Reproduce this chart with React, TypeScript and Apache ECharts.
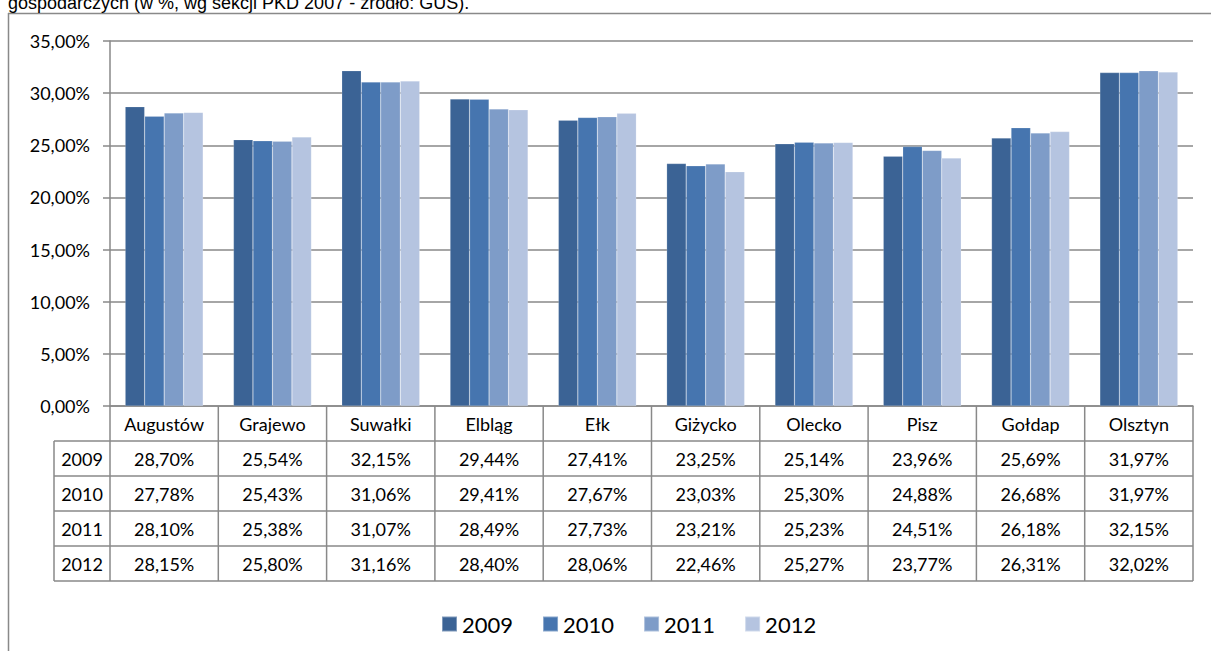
import React, { useEffect, useRef } from "react";
import * as echarts from "echarts";

const categories = ["Augustów", "Grajewo", "Suwałki", "Elbląg", "Ełk", "Giżycko", "Olecko", "Pisz", "Gołdap", "Olsztyn"];
const years = ["2009", "2010", "2011", "2012"];
const v2009 = [28.7, 25.54, 32.15, 29.44, 27.41, 23.25, 25.14, 23.96, 25.69, 31.97];
const v2010 = [27.78, 25.43, 31.06, 29.41, 27.67, 23.03, 25.3, 24.88, 26.68, 31.97];
const v2011 = [28.1, 25.38, 31.07, 28.49, 27.73, 23.21, 25.23, 24.51, 26.18, 32.15];
const v2012 = [28.15, 25.8, 31.16, 28.4, 28.06, 22.46, 25.27, 23.77, 26.31, 32.02];
const seriesValues = [v2009, v2010, v2011, v2012];
const colors = ["#3B6395", "#4675AF", "#7E9CC8", "#B5C4E0"];
const titleText = "gospodarczych (w %, wg sekcji PKD 2007 - źródło: GUS).";

const fmt = (v: number) => v.toFixed(2).replace(".", ",") + "%";

const W = 1211;
const H = 651;
const plotL = 110;
const plotR = 1193;
const plotT = 41;
const plotB = 406;
const rowLabelL = 54;
const rowLines = [441, 476, 511, 546, 581];
const lineColor = "#898989";
const font = "Lato, 'Noto Sans', sans-serif";

export default function App() {
  const ref = useRef<HTMLDivElement>(null);
  useEffect(() => {
    if (!ref.current) return;
    const chart = echarts.init(ref.current, null, { renderer: "svg" });
    const catW = (plotR - plotL) / categories.length;
    const graphics: any[] = [];
    // outer frame
    graphics.push({ type: "line", shape: { x1: 8.5, y1: 13, x2: 8.5, y2: H }, style: { stroke: lineColor, lineWidth: 1.5 } });
    graphics.push({ type: "line", shape: { x1: 8, y1: 13.5, x2: W, y2: 13.5 }, style: { stroke: lineColor, lineWidth: 1.5 } });
    graphics.push({
      type: "text", x: 8, y: 2.5,
      style: { text: titleText, font: "18px 'Liberation Sans', Arial, sans-serif", fill: "#000", verticalAlign: "middle", align: "left" },
    });
    // table verticals
    for (let i = 0; i <= categories.length; i++) {
      const x = plotL + i * catW;
      graphics.push({ type: "line", shape: { x1: x, y1: plotB, x2: x, y2: rowLines[rowLines.length - 1] }, style: { stroke: lineColor, lineWidth: 1.5 } });
    }
    graphics.push({ type: "line", shape: { x1: rowLabelL, y1: rowLines[0], x2: rowLabelL, y2: rowLines[rowLines.length - 1] }, style: { stroke: lineColor, lineWidth: 1.5 } });
    rowLines.forEach((y) => {
      graphics.push({ type: "line", shape: { x1: rowLabelL, y1: y, x2: plotR, y2: y }, style: { stroke: lineColor, lineWidth: 1.5 } });
    });
    // header
    categories.forEach((c, i) => {
      graphics.push({
        type: "text", x: plotL + (i + 0.5) * catW, y: (plotB + rowLines[0]) / 2,
        style: { text: c, font: `18px ${font}`, fill: "#000", align: "center", verticalAlign: "middle" },
      });
    });
    // rows
    years.forEach((yr, r) => {
      const cy = (rowLines[r] + rowLines[r + 1]) / 2;
      graphics.push({
        type: "text", x: (rowLabelL + plotL) / 2, y: cy,
        style: { text: yr, font: `18px ${font}`, fill: "#000", align: "center", verticalAlign: "middle" },
      });
      seriesValues[r].forEach((v, i) => {
        graphics.push({
          type: "text", x: plotL + (i + 0.5) * catW, y: cy,
          style: { text: fmt(v), font: `18px ${font}`, fill: "#000", align: "center", verticalAlign: "middle" },
        });
      });
    });

    chart.setOption({
      animation: false,
      backgroundColor: "#fff",
      grid: { left: plotL, right: W - plotR, top: plotT, bottom: H - plotB, containLabel: false },
      legend: {
        left: 436, top: 608, icon: "rect", itemWidth: 15, itemHeight: 15, itemGap: 29,
        textStyle: { fontFamily: font, fontSize: 22, color: "#000" },
        data: years,
      },
      xAxis: {
        type: "category", data: categories,
        axisLine: { show: true, lineStyle: { color: lineColor, width: 1.5 } },
        axisTick: { show: false }, axisLabel: { show: false },
      },
      yAxis: {
        type: "value", min: 0, max: 35, interval: 5,
        axisLine: { show: true, lineStyle: { color: lineColor, width: 1.5 } },
        axisTick: { show: true, length: 7, lineStyle: { color: lineColor, width: 1.5 } },
        splitLine: { show: true, lineStyle: { color: lineColor, width: 1.5 } },
        axisLabel: { formatter: (v: number) => fmt(v), fontFamily: font, fontSize: 18, color: "#000", margin: 20 },
      },
      series: years.map((y, i) => ({
        name: y, type: "bar", data: seriesValues[i], barGap: "0%", barCategoryGap: "28%",
        itemStyle: { color: colors[i], borderColor: "rgba(255,255,255,0.35)", borderWidth: 0.5 },
      })),
      graphic: graphics,
    });
    return () => chart.dispose();
  }, []);
  return <div ref={ref} style={{ position: "absolute", left: 0, top: 0, width: W, height: H }} />;
}
